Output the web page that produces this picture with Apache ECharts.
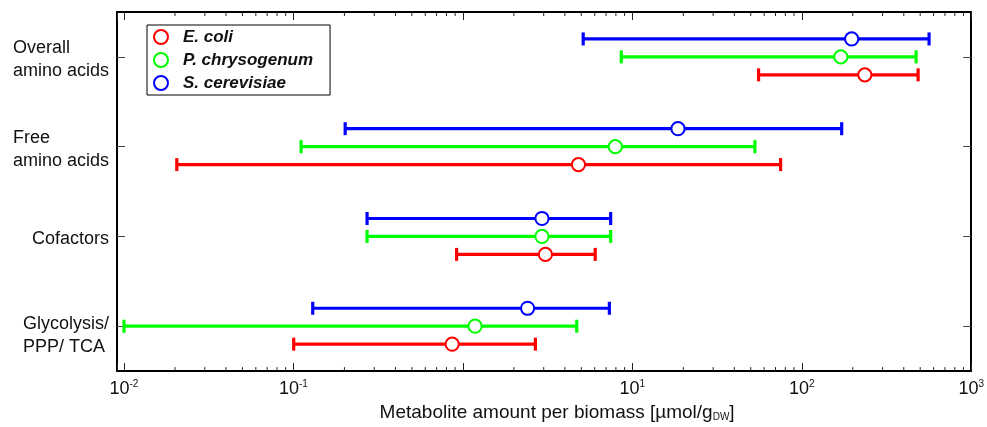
<!DOCTYPE html>
<html><head><meta charset="utf-8">
<script src="https://cdn.jsdelivr.net/npm/echarts@6/dist/echarts.min.js"></script>
<style>html,body{margin:0;padding:0;background:#fff}#c{width:987px;height:427px}</style>
</head><body><div id="c"></div>
<script>
const categories = ['Overall\namino acids', 'Free\namino acids', 'Cofactors', 'Glycolysis/\nPPP/ TCA'];
const seriesNames = ['E. coli', 'P. chrysogenum', 'S. cerevisiae'];
const eColiLow  = [55.6, 0.0205, 0.918, 0.1004];
const eColiMid  = [235.6, 4.81, 3.07, 0.865];
const eColiHigh = [486, 75, 6.04, 2.68];
const pChrLow  = [8.61, 0.111, 0.272, 0.01];
const pChrMid  = [170, 7.94, 2.93, 1.18];
const pChrHigh = [473, 52.9, 7.45, 4.70];
const sCerLow  = [5.13, 0.202, 0.272, 0.130];
const sCerMid  = [197, 18.6, 2.93, 2.41];
const sCerHigh = [564, 172, 7.45, 7.32];
const minorTickValues = [0.02,0.03,0.04,0.05,0.06,0.07,0.08,0.09,
  0.2,0.3,0.4,0.5,0.6,0.7,0.8,0.9, 2,3,4,5,6,7,8,9,
  20,30,40,50,60,70,80,90, 200,300,400,500,600,700,800,900];

const colors = ['#ff0000', '#00ff00', '#0000ff'];
const bandOffsets = [0.2, 0, -0.2];
const FONT = '"Liberation Sans", Arial, sans-serif';
const labelSize = 18;
const labelGap = [6, 5, 6, 19];

// measure label line widths for block layout (lines left-aligned inside a right-aligned block)
const ctx = document.createElement('canvas').getContext('2d');
ctx.font = labelSize + 'px "Liberation Sans"';
const rich = {};
categories.forEach((c, i) => {
  const w = Math.ceil(Math.max(...c.split('\n').map(l => ctx.measureText(l).width)));
  rich['l' + i] = {width: w, align: 'left', fontSize: labelSize, fontFamily: FONT, color: '#111', lineHeight: 23};
  rich['g' + i] = {fontSize: 2, lineHeight: labelGap[i], color: 'rgba(0,0,0,0)'};
});

function toItems(lo, mid, hi) {
  return categories.map((c, i) => [i, lo[i], mid[i], hi[i]]);
}
const groups = [[eColiLow, eColiMid, eColiHigh], [pChrLow, pChrMid, pChrHigh], [sCerLow, sCerMid, sCerHigh]];

function makeRender(si) {
  return function (params, api) {
    const cat = api.value(0);
    const band = api.coord([1, 1])[1] - api.coord([1, 0])[1];
    const dy = band * bandOffsets[si];
    const a = api.coord([api.value(1), cat]);
    const m = api.coord([api.value(2), cat]);
    const b = api.coord([api.value(3), cat]);
    const y = a[1] + dy;
    const st = {stroke: colors[si], lineWidth: 3.2, fill: null};
    const cap = 6.5;
    return {type: 'group', children: [
      {type: 'line', shape: {x1: a[0], y1: y, x2: b[0], y2: y}, style: st},
      {type: 'line', shape: {x1: a[0], y1: y - cap, x2: a[0], y2: y + cap}, style: st},
      {type: 'line', shape: {x1: b[0], y1: y - cap, x2: b[0], y2: y + cap}, style: st},
      {type: 'circle', shape: {cx: m[0], cy: y, r: 6.6}, style: {stroke: colors[si], lineWidth: 2, fill: '#fff'}}
    ]};
  };
}

const series = groups.map((g, si) => ({
  name: seriesNames[si], type: 'custom', xAxisIndex: 0, yAxisIndex: 0,
  itemStyle: {color: colors[si]},
  renderItem: makeRender(si),
  encode: {x: [1, 2, 3], y: 0},
  data: toItems(g[0], g[1], g[2]),
  z: 3
}));

// minor ticks (top and bottom) placed through the x scale
series.push({
  type: 'custom', xAxisIndex: 0, yAxisIndex: 0, silent: true, z: 4,
  renderItem: function (params, api) {
    const x = api.coord([api.value(0), 0])[0];
    const cs = params.coordSys;
    const st = {stroke: '#222', lineWidth: 1};
    return {type: 'group', children: [
      {type: 'line', shape: {x1: x, y1: cs.y + cs.height, x2: x, y2: cs.y + cs.height - 4}, style: st},
      {type: 'line', shape: {x1: x, y1: cs.y, x2: x, y2: cs.y + 4}, style: st}
    ]};
  },
  encode: {x: 0},
  data: minorTickValues.map(v => [v])
});

const xMin = Math.pow(10, -2 - 7 / 170);
const tickFmt = function (v) {
  const e = Math.round(Math.log10(v));
  if (Math.abs(Math.log10(v) - e) > 1e-6) return '';
  if (e === 0) return '';
  return '{b|10}{s|' + e + '}';
};

const chart = echarts.init(document.getElementById('c'), null, {renderer: 'canvas'});
chart.setOption({
  animation: false,
  textStyle: {fontFamily: FONT},
  grid: {left: 117, right: 14, top: 12, bottom: 52, containLabel: false},
  legend: {
    orient: 'vertical', left: 147, top: 25,
    padding: [3.5, 17, 3.5, 6], itemGap: 6, itemWidth: 16, itemHeight: 14,
    borderColor: '#000', borderWidth: 1, backgroundColor: '#fff',
    textStyle: {fontSize: 17, fontWeight: 'bold', fontStyle: 'italic', color: '#111', fontFamily: FONT,
      padding: [0, 0, 0, 9]},
    data: seriesNames.map((n, i) => ({name: n, icon: 'circle',
      itemStyle: {color: '#fff', borderColor: colors[i], borderWidth: 2}}))
  },
  xAxis: [{
    type: 'log', min: xMin, max: 1000, position: 'bottom',
    axisLine: {show: true, onZero: false, lineStyle: {color: '#000', width: 2}},
    axisTick: {show: true, inside: true, length: 8, lineStyle: {color: '#222', width: 1}},
    splitLine: {show: false},
    axisLabel: {margin: 8, showMinLabel: true, formatter: tickFmt, color: '#111',
      rich: {b: {fontSize: 18, fontFamily: FONT, color: '#111'},
             s: {fontSize: 10, fontFamily: FONT, color: '#111', verticalAlign: 'top', padding: [0, 0, 10, 0]}}},
    name: 'Metabolite amount per biomass [µmol/g{sub|DW}]',
    nameLocation: 'middle', nameGap: 27,
    nameTextStyle: {fontSize: 19, color: '#111', fontFamily: FONT, padding: [0, 0, 0, 26],
      rich: {sub: {fontSize: 10, fontFamily: FONT, color: '#111', verticalAlign: 'bottom', padding: [9, 0, 0, 0]}}}
  }, {
    type: 'log', min: xMin, max: 1000, position: 'top',
    axisLine: {show: true, onZero: false, lineStyle: {color: '#000', width: 2}},
    axisTick: {show: true, inside: true, length: 8, lineStyle: {color: '#222', width: 1}},
    axisLabel: {show: false}, splitLine: {show: false}
  }],
  yAxis: [{
    type: 'category', data: categories, inverse: true, position: 'left',
    axisLine: {show: true, onZero: false, lineStyle: {color: '#000', width: 2}},
    axisTick: {show: true, inside: true, length: 8, alignWithLabel: true, lineStyle: {color: '#444', width: 1}},
    axisLabel: {margin: 7, color: '#111', fontSize: labelSize,
      formatter: function (v, i) {
        return '{g' + i + '| }\n' + v.split('\n').map(l => '{l' + i + '|' + l + '}').join('\n');
      },
      rich: rich},
    splitLine: {show: false}
  }, {
    type: 'category', data: categories, inverse: true, position: 'right',
    axisLine: {show: true, onZero: false, lineStyle: {color: '#000', width: 2}},
    axisTick: {show: true, inside: true, length: 8, alignWithLabel: true, lineStyle: {color: '#444', width: 1}},
    axisLabel: {show: false}, splitLine: {show: false}
  }],
  series: series
});
</script></body></html>
